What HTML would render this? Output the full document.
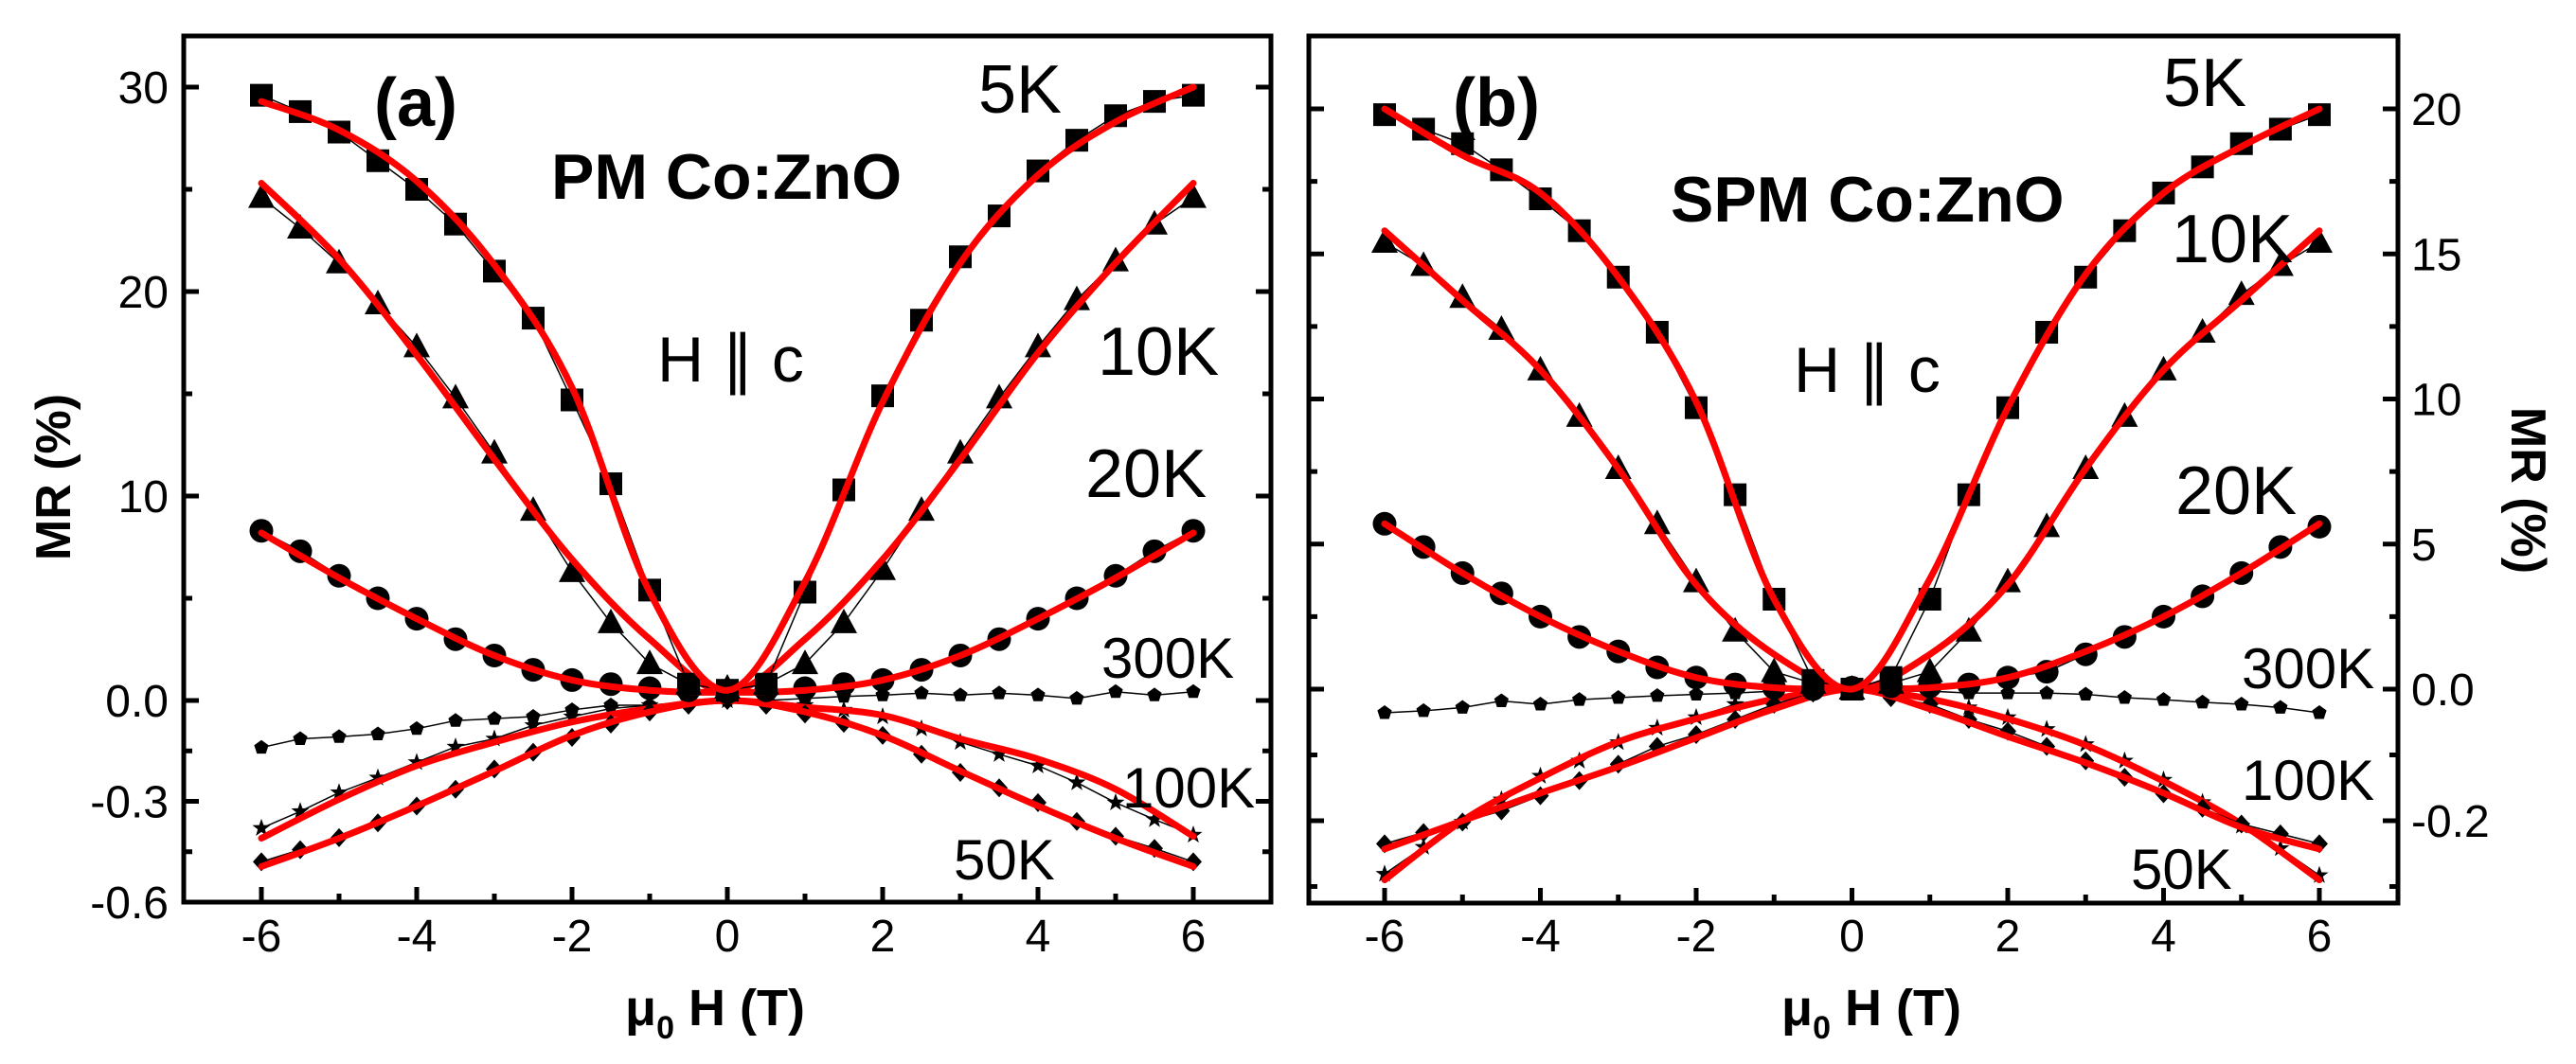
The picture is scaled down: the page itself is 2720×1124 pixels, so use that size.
<!DOCTYPE html>
<html><head><meta charset="utf-8"><style>
html,body{margin:0;padding:0;background:#fff;}
svg{display:block;font-family:"Liberation Sans",Arial,sans-serif;}
</style></head><body>
<svg id="fig" width="2720" height="1124" viewBox="0 0 2720 1124"></svg>
<script>
const H = [-6,-5.5,-5,-4.5,-4,-3.5,-3,-2.5,-2,-1.5,-1,-0.5,0,0.5,1,1.5,2,2.5,3,3.5,4,4.5,5,5.5,6];
const HF = [-6,-5,-4,-3,-2,-1,0,1,2,3,4,5,6];
// Panel (a) PM Co:ZnO
const a5K = [29.6,28.8,27.8,26.4,25.0,23.3,21.0,18.7,14.7,10.6,5.4,0.8,0.5,0.8,5.3,10.3,14.9,18.6,21.7,23.7,25.9,27.4,28.6,29.3,29.6];
const a10K = [24.6,23.1,21.4,19.4,17.3,14.8,12.1,9.3,6.3,3.8,1.8,0.8,0.6,0.8,1.8,3.8,6.4,9.3,12.1,14.8,17.3,19.6,21.5,23.3,24.6];
const a20K = [8.3,7.3,6.1,5.0,4.0,3.0,2.2,1.5,1.0,0.8,0.6,0.5,0.4,0.5,0.6,0.8,1.0,1.5,2.2,3.0,4.0,5.0,6.1,7.3,8.3];
const a300K = [-0.14,-0.114,-0.108,-0.10,-0.084,-0.06,-0.054,-0.048,-0.028,-0.014,-0.014,-0.008,0,0,0.006,0.012,0.016,0.022,0.016,0.022,0.016,0.006,0.026,0.016,0.026];
const a100K = [-0.38,-0.33,-0.274,-0.23,-0.184,-0.138,-0.114,-0.074,-0.048,-0.024,-0.014,-0.004,0,-0.004,-0.014,-0.028,-0.048,-0.084,-0.124,-0.16,-0.194,-0.244,-0.304,-0.354,-0.40];
const a50K = [-0.48,-0.444,-0.408,-0.364,-0.314,-0.264,-0.204,-0.154,-0.11,-0.07,-0.034,-0.014,0,-0.014,-0.04,-0.068,-0.104,-0.16,-0.214,-0.26,-0.304,-0.36,-0.404,-0.44,-0.48];
const a5Kfit = [29.3,27.9,25.4,21.3,15.3,5.3,0.5,5.8,14.6,21.4,25.7,28.3,30.0];
const a10Kfit = [25.3,21.6,16.9,11.8,6.9,3.0,0.4,3.0,6.9,11.8,17.0,21.4,25.3];
const a20Kfit = [8.2,6.0,4.0,2.2,1.0,0.5,0.4,0.5,1.0,2.2,4.0,6.0,8.2];
const a100Kfit = [-0.41,-0.294,-0.194,-0.124,-0.064,-0.024,0,-0.02,-0.044,-0.114,-0.174,-0.264,-0.404];
const a50Kfit = [-0.494,-0.41,-0.314,-0.21,-0.104,-0.034,0,-0.034,-0.104,-0.21,-0.314,-0.41,-0.494];
// Panel (b) SPM Co:ZnO
const b5K = [19.8,19.3,18.8,17.9,16.9,15.8,14.2,12.3,9.7,6.7,3.1,0.3,0,0.4,3.1,6.7,9.7,12.3,14.2,15.8,17.1,18.0,18.8,19.3,19.8];
const b10K = [15.4,14.6,13.5,12.4,11.0,9.4,7.6,5.7,3.7,2.0,0.6,0.2,0,0.2,0.6,2.0,3.7,5.6,7.6,9.4,11.0,12.3,13.6,14.6,15.4];
const b20K = [5.7,4.9,4.0,3.3,2.5,1.8,1.3,0.75,0.4,0.16,0.05,0,0.05,0.1,0.1,0.16,0.4,0.6,1.2,1.8,2.5,3.2,4.0,4.9,5.6];
const b300K = [-0.036,-0.033,-0.028,-0.018,-0.023,-0.016,-0.013,-0.010,-0.008,-0.006,-0.003,0,0.002,-0.003,-0.003,-0.006,-0.006,-0.006,-0.008,-0.013,-0.016,-0.02,-0.023,-0.028,-0.036];
const b100K = [-0.281,-0.24,-0.202,-0.168,-0.132,-0.109,-0.081,-0.059,-0.043,-0.023,-0.013,-0.003,0.002,-0.003,-0.010,-0.028,-0.043,-0.061,-0.084,-0.109,-0.138,-0.172,-0.208,-0.242,-0.283];
const b50K = [-0.235,-0.218,-0.202,-0.185,-0.162,-0.139,-0.114,-0.087,-0.069,-0.046,-0.023,-0.006,0.002,-0.013,-0.023,-0.046,-0.064,-0.087,-0.109,-0.134,-0.159,-0.181,-0.205,-0.22,-0.235];
const b5Kfit = [20.0,18.4,17.1,14.2,9.9,3.1,0,3.8,9.7,14.3,17.1,18.7,20.0];
const b10Kfit = [15.8,13.4,11.0,7.6,3.6,1.2,0,1.2,3.6,7.6,11.0,13.4,15.8];
const b20Kfit = [5.7,4.0,2.5,1.3,0.4,0.05,0,0.05,0.4,1.3,2.5,4.0,5.7];
const b100Kfit = [-0.29,-0.2,-0.135,-0.08,-0.045,-0.015,0,-0.015,-0.045,-0.085,-0.14,-0.205,-0.29];
const b50Kfit = [-0.243,-0.2,-0.158,-0.118,-0.074,-0.03,0,-0.03,-0.072,-0.112,-0.158,-0.21,-0.243];
const xTicks = [-6,-4,-2,0,2,4,6];
const aTopTicks = [0,10,20,30], aTopLabels = ["0.0","10","20","30"];
const aBotTicks = [-0.3,-0.6], aBotLabels = ["-0.3","-0.6"];
const bTopTicks = [0,5,10,15,20], bTopLabels = ["0.0","5","10","15","20"];
const bBotTicks = [-0.2], bBotLabels = ["-0.2"];

const NS="http://www.w3.org/2000/svg";
const svg=document.getElementById('fig');
function mk(tag,attrs,parent){const e=document.createElementNS(NS,tag);for(const k in attrs)e.setAttribute(k,attrs[k]);(parent||svg).appendChild(e);return e;}

const A={x0:194,x1:1342,y0:38,y1:953,xs:v=>768+82*v,yt:v=>740-21.6*v,yb:v=>740-355*v};
const B={x0:1382,x1:2532,y0:38,y1:954,xs:v=>1955.5+82.25*v,yt:v=>728-30.65*v,yb:v=>728-695*v};

function smooth(pts){let d=`M${pts[0][0]},${pts[0][1]}`;for(let i=0;i<pts.length-1;i++){const p0=pts[i-1]||pts[i],p1=pts[i],p2=pts[i+1],p3=pts[i+2]||p2;const c1=[p1[0]+(p2[0]-p0[0])/6,p1[1]+(p2[1]-p0[1])/6],c2=[p2[0]-(p3[0]-p1[0])/6,p2[1]-(p3[1]-p1[1])/6];d+=`C${c1[0]},${c1[1]} ${c2[0]},${c2[1]} ${p2[0]},${p2[1]}`;}return d;}
function marker(g,type,x,y){
  let e;
  if(type==='square'){e=mk('rect',{x:x-12,y:y-12,width:24,height:24,fill:'#000'},g);}
  else if(type==='triangle'){e=mk('polygon',{points:`${x},${y-15} ${x+14},${y+11} ${x-14},${y+11}`,fill:'#000'},g);}
  else if(type==='circle'){e=mk('circle',{cx:x,cy:y,r:12.5,fill:'#000'},g);}
  else if(type==='pentagon'){let p=[];for(let i=0;i<5;i++){const a=-Math.PI/2+i*2*Math.PI/5;p.push((x+8*Math.cos(a))+','+(y+8*Math.sin(a)));}e=mk('polygon',{points:p.join(' '),fill:'#000'},g);}
  else if(type==='star'){let p=[];for(let i=0;i<10;i++){const r=i%2?4:10,a=-Math.PI/2+i*Math.PI/5;p.push((x+r*Math.cos(a))+','+(y+r*Math.sin(a)));}e=mk('polygon',{points:p.join(' '),fill:'#000'},g);}
  else {e=mk('polygon',{points:`${x},${y-10} ${x+9},${y} ${x},${y+10} ${x-9},${y}`,fill:'#000'},g);}
  
  
}
function series(P,name,vals,fit,yf,type){
  const g=mk('g',{});
  
  
  const pts=H.map((h,i)=>[P.xs(h),yf(vals[i])]);
  const ln=mk('polyline',{points:pts.map(p=>p.join(',')).join(' '),fill:'none',stroke:'#000','stroke-width':1.5},g);
  
  
  pts.forEach(p=>marker(g,type,p[0],p[1]));
  if(fit){
    const fp=HF.map((h,i)=>[P.xs(h),yf(fit[i])]);
    const f=mk('path',{d:smooth(fp),fill:'none',stroke:'#f00','stroke-width':7,'stroke-linecap':'round','stroke-linejoin':'round'},g);
    
    
  }
}
function text(str,x,y,size,opts){
  const t=mk('text',Object.assign({x:x,y:y,'font-size':size,fill:'#000'},opts||{}));
  t.textContent=str;return t;
}
function axes(P,tag,topT,topL,botT,botL,labelsRight){
  const g=mk('g',{});
  
  
  const fr=mk('rect',{x:P.x0,y:P.y0,width:P.x1-P.x0,height:P.y1-P.y0,fill:'none',stroke:'#000','stroke-width':5},g);
  
  
  xTicks.forEach(v=>{
    const x=P.xs(v);
    mk('line',{x1:x,y1:P.y1,x2:x,y2:P.y1-16,stroke:'#000','stroke-width':5},g);
    const t=text(String(v),x,1005,48,{'text-anchor':'middle'});
    
    
  });
  [-5,-3,-1,1,3,5].forEach(v=>{const x=P.xs(v);mk('line',{x1:x,y1:P.y1,x2:x,y2:P.y1-9,stroke:'#000','stroke-width':5},g);});
  const ticks=[];
  topT.forEach((v,i)=>ticks.push([P.yt(v),topL[i],true]));
  botT.forEach((v,i)=>ticks.push([P.yb(v),botL[i],true]));
  const step=topT[1]-topT[0];
  topT.forEach(v=>{if(v+step/2<=topT[topT.length-1]+0.01)ticks.push([P.yt(v+step/2),null,false]);});
  if(tag==='panel-a'){ticks.push([P.yb(-0.15),null,false]);ticks.push([P.yb(-0.45),null,false]);}
  else{ticks.push([P.yb(-0.1),null,false]);ticks.push([P.yb(-0.3),null,false]);}
  ticks.forEach(([y,l,maj])=>{
    const L=maj?16:9;
    mk('line',{x1:P.x0,y1:y,x2:P.x0+L,y2:y,stroke:'#000','stroke-width':5},g);
    mk('line',{x1:P.x1,y1:y,x2:P.x1-L,y2:y,stroke:'#000','stroke-width':5},g);
    if(l){
      const t=labelsRight?text(l,P.x1+14,y+17,48,{'text-anchor':'start'}):text(l,P.x0-16,y+17,48,{'text-anchor':'end'});
      
      
    }
  });
}
axes(A,'panel-a',aTopTicks,aTopLabels,aBotTicks,aBotLabels,false);
axes(B,'panel-b',bTopTicks,bTopLabels,bBotTicks,bBotLabels,true);

series(A,'a-300k',a300K,null,A.yb,'pentagon');
series(A,'a-100k',a100K,a100Kfit,A.yb,'star');
series(A,'a-50k',a50K,a50Kfit,A.yb,'diamond');
series(A,'a-20k',a20K,a20Kfit,A.yt,'circle');
series(A,'a-10k',a10K,a10Kfit,A.yt,'triangle');
series(A,'a-5k',a5K,a5Kfit,A.yt,'square');
series(B,'b-300k',b300K,null,B.yb,'pentagon');
series(B,'b-100k',b100K,b100Kfit,B.yb,'star');
series(B,'b-50k',b50K,b50Kfit,B.yb,'diamond');
series(B,'b-20k',b20K,b20Kfit,B.yt,'circle');
series(B,'b-10k',b10K,b10Kfit,B.yt,'triangle');
series(B,'b-5k',b5K,b5Kfit,B.yt,'square');

const labels=[
 ['(a)',395,133,72,'bold','panel-a-label'],['PM Co:ZnO',582,210,68,'bold','panel-a-title'],['H ∥ c',694,403,68,'normal','panel-a-field-label'],
 ['5K',1033,119,72,'normal','a-5k-label'],['10K',1159,396,72,'normal','a-10k-label'],['20K',1146,525,72,'normal','a-20k-label'],
 ['300K',1163,716,60,'normal','a-300k-label'],['100K',1185,853,60,'normal','a-100k-label'],['50K',1007,929,60,'normal','a-50k-label'],
 ['(b)',1534,133,72,'bold','panel-b-label'],['SPM Co:ZnO',1764,234,68,'bold','panel-b-title'],['H ∥ c',1894,414,68,'normal','panel-b-field-label'],
 ['5K',2284,112,72,'normal','b-5k-label'],['10K',2293,277,72,'normal','b-10k-label'],['20K',2297,543,72,'normal','b-20k-label'],
 ['300K',2367,727,60,'normal','b-300k-label'],['100K',2367,845,60,'normal','b-100k-label'],['50K',2250,939,60,'normal','b-50k-label']
];
labels.forEach(([s,x,y,fs,w,n])=>{
  const t=text(s,x,y,fs,{'font-weight':w});
  
  
});
const ya=text('MR (%)',0,0,52,{'font-weight':'bold','text-anchor':'middle',transform:'translate(74,504) rotate(-90)'});


const yb=text('MR (%)',0,0,52,{'font-weight':'bold','text-anchor':'middle',transform:'translate(2652,518) rotate(90)'});


[[755,'x-axis-title-a'],[1976,'x-axis-title-b']].forEach(([cx,n])=>{
  const t=mk('text',{x:cx,y:1083,'font-size':54,'font-weight':'bold','text-anchor':'middle',fill:'#000'});
  t.innerHTML='μ<tspan font-size="34" dy="14">0</tspan><tspan dy="-14"> H (T)</tspan>';
  
  
});
</script>
</body></html>
